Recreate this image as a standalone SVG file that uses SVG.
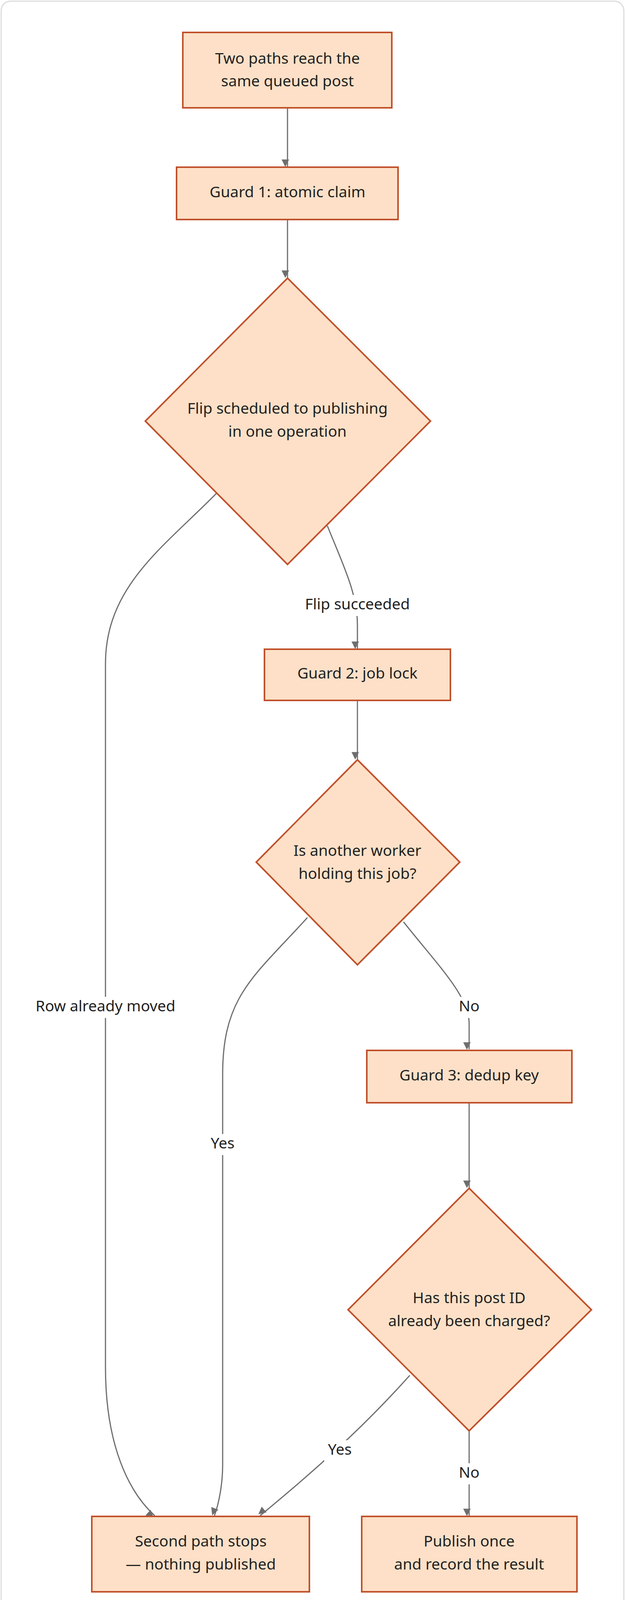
<svg xmlns="http://www.w3.org/2000/svg" width="1600" height="4196" viewBox="0 0 1600 4196">
<style>
.n{fill:#fde0c7;stroke:#c0502a;stroke-width:4}
.t{font-family:"Noto Sans","Open Sans",sans-serif;font-size:39px;fill:#222;text-anchor:middle;dominant-baseline:middle}
.e{fill:none;stroke:#6e6e6e;stroke-width:3;marker-end:url(#a)}
.lb{fill:#fff}
</style>
<defs><marker id="a" viewBox="0 0 10 10" refX="9" refY="5" markerWidth="8" markerHeight="8" orient="auto-start-reverse" markerUnits="userSpaceOnUse" style="overflow:visible"><path d="M0,0L10,5L0,10z" fill="#6e6e6e" transform="scale(2.4) translate(-5.5,-0)"/></marker></defs>
<rect x="3" y="3" width="1594" height="4190" rx="24" fill="#fff" stroke="#ddd" stroke-width="3"/>
<g id="edges">
<path class="e" d="M736,276V426"/>
<path class="e" d="M736,562V710"/>
<path class="e" d="M838,1346C880,1450 915,1520 915,1600V1660"/>
<path class="e" d="M915,1793V1943"/>
<path class="e" d="M1201,2823V3040"/>
<path class="e" d="M554,1263C420,1400 270,1500 270,1700V3500C270,3700 330,3820 396,3880"/>
<path class="e" d="M787,2349C650,2500 570,2550 570,2750V3750C570,3800 560,3850 549,3880"/>
<path class="e" d="M1033,2360C1120,2470 1201,2550 1201,2620V2686"/>
<path class="e" d="M1049,3521C960,3620 860,3720 666,3880"/>
<path class="e" d="M1201,3663V3880"/>
</g>
<g id="labels">
<rect class="lb" x="770" y="1523" width="290" height="54"/><text class="t" x="915" y="1550">Flip succeeded</text>
<rect class="lb" x="80" y="2552" width="380" height="54"/><text class="t" x="270" y="2579">Row already moved</text>
<rect class="lb" x="530" y="2903" width="80" height="54"/><text class="t" x="570" y="2930">Yes</text>
<rect class="lb" x="1166" y="2552" width="70" height="54"/><text class="t" x="1201" y="2579">No</text>
<rect class="lb" x="830" y="3687" width="80" height="54"/><text class="t" x="870" y="3714">Yes</text>
<rect class="lb" x="1166" y="3746" width="70" height="54"/><text class="t" x="1201" y="3773">No</text>
</g>
<g id="n1"><rect class="n" x="468" y="83" width="535" height="193"/><text class="t" x="736" y="153">Two paths reach the</text><text class="t" x="736" y="211">same queued post</text></g>
<g id="n2"><rect class="n" x="452" y="428" width="567" height="134"/><text class="t" x="736" y="495">Guard 1: atomic claim</text></g>
<g id="d1"><path class="n" d="M736,712L1102,1078L736,1445L372,1078z"/><text class="t" x="736" y="1049">Flip scheduled to publishing</text><text class="t" x="736" y="1108">in one operation</text></g>
<g id="n3"><rect class="n" x="677" y="1662" width="476" height="131"/><text class="t" x="915" y="1727">Guard 2: job lock</text></g>
<g id="d2"><path class="n" d="M915,1945L1177,2207L915,2470L656,2207z"/><text class="t" x="915" y="2181">Is another worker</text><text class="t" x="915" y="2240">holding this job?</text></g>
<g id="n4"><rect class="n" x="939" y="2689" width="525" height="134"/><text class="t" x="1201" y="2756">Guard 3: dedup key</text></g>
<g id="d3"><path class="n" d="M1201,3042L1514,3353L1201,3663L891,3353z"/><text class="t" x="1201" y="3326">Has this post ID</text><text class="t" x="1201" y="3385">already been charged?</text></g>
<g id="n5"><rect class="n" x="235" y="3882" width="557" height="193"/><text class="t" x="514" y="3949">Second path stops</text><text class="t" x="514" y="4008">— nothing published</text></g>
<g id="n6"><rect class="n" x="926" y="3882" width="551" height="193"/><text class="t" x="1201" y="3949">Publish once</text><text class="t" x="1201" y="4008">and record the result</text></g>
<g id="wm"><rect x="1381" y="4115" width="184" height="48" rx="24" fill="#888"/><text x="1473" y="4140" font-family="Noto Sans,sans-serif" font-size="22" font-weight="bold" fill="#fff" text-anchor="middle" dominant-baseline="middle">reachmore.co</text></g>
</svg>
